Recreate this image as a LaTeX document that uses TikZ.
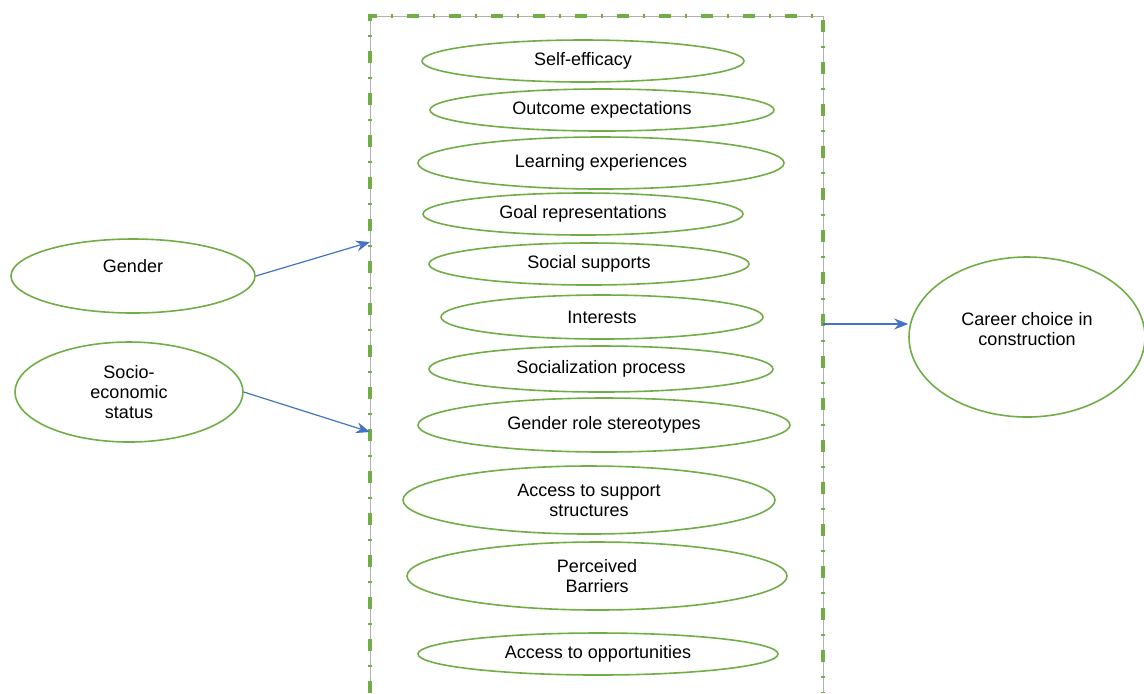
\documentclass[tikz,border=0pt]{standalone}
\usepackage{fontspec}
\setmainfont{Liberation Sans}
\usetikzlibrary{shapes.geometric,arrows.meta}
\definecolor{officegreen}{RGB}{112,173,71}
\definecolor{officeblue}{RGB}{68,114,196}
\tikzstyle{e} = [draw=officegreen, line width=0.8pt, ellipse, inner sep=0pt, align=center, font=\fontsize{9}{10}\selectfont]

\begin{document}
\begin{tikzpicture}[x=0.5pt,y=-0.5pt,
			arr/.style = {draw=officeblue, line width=0.6pt, -{Stealth[length=7pt,width=5.5pt]}},
			edge/.style = {draw=gray!60, line width=0.4pt},
			dashdot/.style = {draw=officegreen, line width=2pt, dash pattern=on 6pt off 7pt on 1pt off 7pt}]
			\useasboundingbox (0,0) rectangle (1144,693);
			
			\draw[edge] (370,693) -- (370,16) -- (823,16) -- (823,693);
			\draw[dashdot] (370,693) -- (370,16) -- (823,16) -- (823,693);
			
			\node (self) [e, minimum width=161pt, minimum height=21pt] at (583,61) {Self-efficacy};
			\node (outcome) [e, minimum width=172pt, minimum height=21pt] at (602,110) {Outcome expectations};
			\node (learning) [e, minimum width=183pt, minimum height=26pt] at (601,163) {Learning experiences};
			\node (goal) [e, minimum width=160pt, minimum height=21pt] at (583,214) {Goal representations};
			\node (social) [e, minimum width=160pt, minimum height=21pt] at (589,264) {Social supports};
			\node (interests) [e, minimum width=161pt, minimum height=22pt] at (602,317) {Interests};
			\node (socialization) [e, minimum width=172pt, minimum height=23pt] at (601,369) {Socialization process};
			\node (stereotypes) [e, minimum width=186pt, minimum height=27pt] at (604,425) {Gender role stereotypes};
			\node (support) [e, minimum width=186pt, minimum height=34pt] at (589,500) {Access to support\\structures};
			\node (barriers) [e, minimum width=190pt, minimum height=34pt] at (597,576) {Perceived\\Barriers};
			\node (opportunities) [e, minimum width=180pt, minimum height=21pt] at (598,654) {Access to opportunities};
			
			\node (gender) [e, minimum width=122pt, minimum height=37pt, text depth=10pt] at (133,276) {Gender};
			\node (socio) [e, minimum width=114pt, minimum height=50pt] at (129,392) {Socio-\\economic\\status};
			\node (career) [e, minimum width=118pt, minimum height=80pt, text depth=8pt] at (1027,337) {Career choice in\\construction};
			
			\coordinate (gin) at (370,242);
			\coordinate (sin) at (370,432);
			\coordinate (cout) at (823,324);
			
			\draw[arr] (gender.east) -- (gin);
			\draw[arr] (socio.east) -- (sin);
			\draw[arr] (cout) -- (cout -| career.west);
		\end{tikzpicture}
\end{document}
